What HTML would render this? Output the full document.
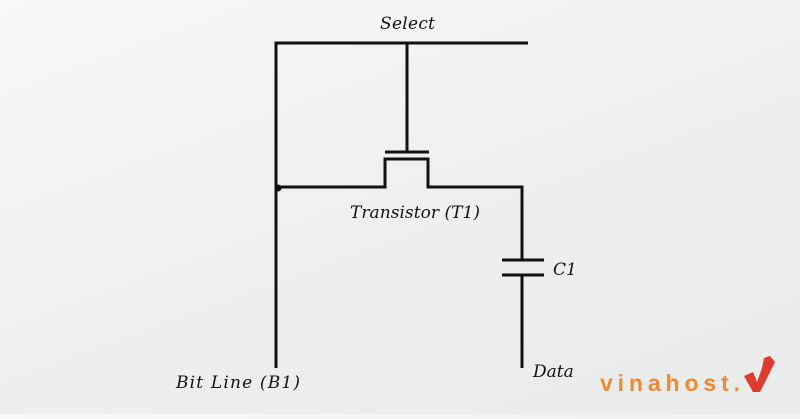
<!DOCTYPE html>
<html><head><style>
html,body{margin:0;padding:0}
body{width:800px;height:414px;overflow:hidden;background:linear-gradient(160deg,#f7f8f8 0%,#eeefef 50%,#e9ebeb 100%);font-family:"Liberation Serif",serif}
</style></head><body>
<svg width="800" height="414" viewBox="0 0 800 414" xmlns="http://www.w3.org/2000/svg">
<g stroke="#111" stroke-width="3" fill="none">
<path d="M276 368V43H528"/>
<path d="M407 43V152"/>
<path d="M385 152H429"/>
<path d="M276 187H385V159H428V187H522V260"/>
<path d="M502 260H544M502 275H544"/>
<path d="M522 275V368"/>
</g>
<circle cx="278" cy="188" r="3.5" fill="#111"/>
<g font-family="DejaVu Serif,serif" font-style="italic" font-size="17" fill="#111">
<text x="380" y="29" textLength="55">Select</text>
<text x="350" y="218" textLength="130">Transistor (T1)</text>
<text x="553" y="275">C1</text>
<text x="533" y="377">Data</text>
<text x="176" y="388" textLength="124">Bit Line (B1)</text>
</g>
<text x="600" y="391" font-family="Liberation Sans,sans-serif" font-weight="bold" font-size="23" fill="#f08a30" textLength="140">vinahost.</text>
<path d="M744 376 L753 372 L757 382 L762 368 L764 358 L770 356 L775 362 L760 392 L753 392Z" fill="#e03a2e"/>
</svg>
</body></html>
